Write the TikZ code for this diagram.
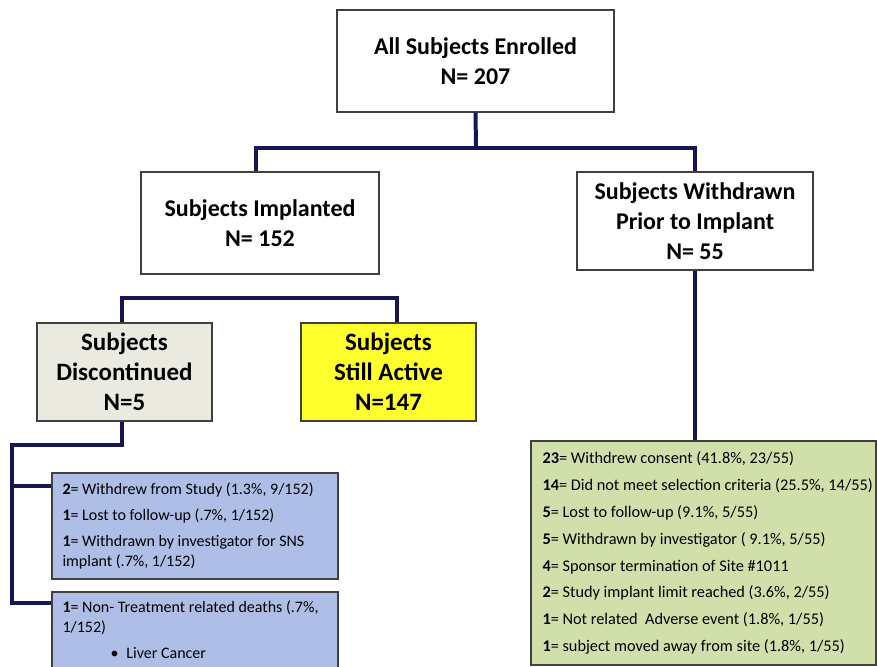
\documentclass[tikz,border=0pt]{standalone}
\usepackage{fontspec}
\setmainfont{Carlito}
\usepackage{tikz}
\definecolor{linknavy}{RGB}{22,22,84}
\definecolor{boxgray}{RGB}{234,234,224}
\definecolor{boxyellow}{RGB}{255,255,46}
\definecolor{boxblue}{RGB}{174,190,230}
\definecolor{boxgreen}{RGB}{209,223,170}
\definecolor{edgegray}{RGB}{64,64,64}

\begin{document}
\begin{tikzpicture}[x=1pt,y=1pt]
	\tikzstyle{every node}+=[inner sep=0pt]
	\tikzstyle{headbox}=[draw=edgegray, line width=1.4pt, fill=white, align=center, font=\fontsize{24}{30}\selectfont\bfseries]
	\tikzstyle{listbox}=[draw=edgegray, line width=1.4pt]
	\tikzstyle{listtext}=[align=left, font=\fontsize{16}{20}\selectfont]
	\tikzstyle{link}=[linknavy, line width=4pt, line join=miter]
	\useasboundingbox (0,0) rectangle (877,-666);
	\node [headbox, minimum width=277pt, minimum height=102pt] (all) at (475.5,-61) {All Subjects Enrolled\\N= 207};
	\node [headbox, minimum width=238pt, minimum height=102pt] (impl) at (260,-223) {Subjects Implanted\\N= 152};
	\node [headbox, minimum width=236pt, minimum height=98pt] (wd) at (695,-221) {Subjects Withdrawn\\Prior to Implant\\N= 55};
	\node [headbox, fill=boxgray, minimum width=175pt, minimum height=98pt, font=\fontsize{25}{30}\selectfont\bfseries] (disc) at (124.5,-372) {Subjects\\Discontinued\\N=5};
	\node [headbox, fill=boxyellow, minimum width=175pt, minimum height=98pt, font=\fontsize{25}{30}\selectfont\bfseries] (act) at (388.5,-372) {Subjects\\Still Active\\N=147};
	\node [listbox, fill=boxblue, minimum width=286pt, minimum height=106pt] (blue1) at (195,-526) {};
	\node [listtext, anchor=west] (blue1txt) at ([xshift=11pt]blue1.west) {\textbf{2}= Withdrew from Study (1.3\%, 9/152)\\[6pt]\textbf{1}= Lost to follow-up (.7\%, 1/152)\\[6pt]\textbf{1}= Withdrawn by investigator for SNS\\implant (.7\%, 1/152)};
	\node [listbox, fill=boxblue, minimum width=286pt, minimum height=100pt] (blue2) at (195,-642) {};
	\node [listtext, anchor=north west] (blue2txt) at ([xshift=11pt,yshift=-9pt]blue2.north west) {\textbf{1}= Non- Treatment related deaths (.7\%,\\1/152)\\[6pt]\hspace*{48pt}\textbullet\hspace*{8pt}Liver Cancer};
	\node [listbox, fill=boxgreen, minimum width=345pt, minimum height=224pt] (green) at (703.5,-553) {};
	\node [listtext, anchor=west, font=\fontsize{16.3}{26.9}\selectfont] (greentxt) at ([xshift=12pt]green.west) {\textbf{23}= Withdrew consent (41.8\%, 23/55)\\\textbf{14}= Did not meet selection criteria (25.5\%, 14/55)\\\textbf{5}= Lost to follow-up (9.1\%, 5/55)\\\textbf{5}= Withdrawn by investigator ( 9.1\%, 5/55)\\\textbf{4}= Sponsor termination of Site \#1011\\\textbf{2}= Study implant limit reached (3.6\%, 2/55)\\\textbf{1}= Not related\ \ Adverse event (1.8\%, 1/55)\\\textbf{1}= subject moved away from site (1.8\%, 1/55)};
	\coordinate (split1) at (476,-148);
	\coordinate (split2) at (260,-298);
	\coordinate (left0) at (12,-445);
	\coordinate (left1) at (12,-486);
	\coordinate (left2) at (12,-603);
	\draw [link] (all.south) -- (split1);
	\draw [link] ([xshift=-4pt]impl.north) |- (split1) -| (wd.north);
	\draw [link] ([xshift=-3pt]disc.north) |- (split2) -| ([xshift=8pt]act.north);
	\draw [link] ([xshift=-3pt]disc.south) |- (left0) -- (left2) -- (left2 -| blue2.west);
	\draw [link] (left1) -- (left1 -| blue1.west);
	\draw [link] (wd.south) -- (wd.south |- green.north);
\end{tikzpicture}
\end{document}
